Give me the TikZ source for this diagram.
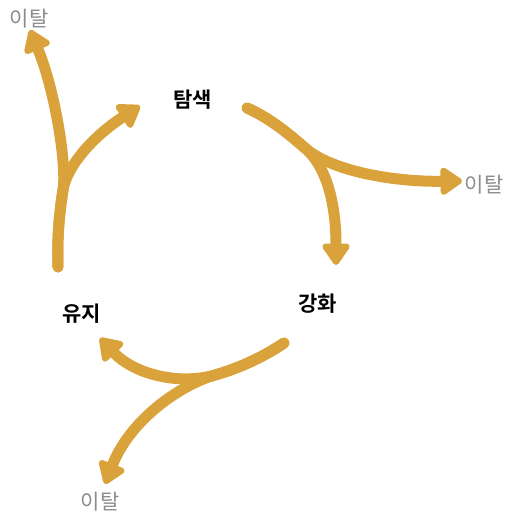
\documentclass[tikz,border=0pt]{standalone}
\usepackage{fontspec}
\setmainfont{Noto Sans CJK KR}
\newfontfamily\krbold{Noto Sans CJK KR Bold}
\usetikzlibrary{arrows.meta}
\definecolor{flow}{HTML}{D9A23A}
\definecolor{leave}{HTML}{8C8C8C}
\begin{document}
\begin{tikzpicture}[x=1pt,y=-1pt,
  stage/.style={font=\krbold\fontsize{21}{23}\selectfont, text=black, inner sep=0},
  exit/.style={font=\fontsize{21}{23}\selectfont, text=leave, inner sep=0},
  flowline/.style={draw=flow, line width=11pt, line cap=round,
    -{Triangle[length=24pt,width=31pt,round]}}]
\useasboundingbox (0,0) rectangle (506,516);
% labels
\node[stage] (explore) at (192.5,99.5) {탐색};
\node[stage] (reinforce) at (317.5,304) {강화};
\node[stage] (keep) at (81.5,314) {유지};
\node[exit] (exitTL) at (29,18.5) {이탈};
\node[exit] (exitR) at (484,185) {이탈};
\node[exit] (exitB) at (100,502) {이탈};
% start / junction / tip coordinates
\coordinate (s1) at (247,108);
\coordinate (j1) at (305,148);
\coordinate (t1a) at (336,265);
\coordinate (t1b) at (462,181);
\coordinate (s2) at (284,343);
\coordinate (j2) at (215,375);
\coordinate (t2a) at (100,338);
\coordinate (t2b) at (105,484);
\coordinate (s3) at (58,267);
\coordinate (j3) at (63,190);
\coordinate (t3a) at (140,106);
\coordinate (t3b) at (30,30);
% arrows
\draw[flowline] (s1) .. controls (270,118) and (290,135) .. (j1)
  .. controls (325,165) and (336,200) .. (t1a);
\draw[flowline] (s1) .. controls (270,118) and (290,135) .. (j1)
  .. controls (330,170) and (390,182) .. (t1b);
\draw[flowline] (s2) .. controls (265,356) and (240,368) .. (j2)
  .. controls (180,385) and (135,375) .. (t2a);
\draw[flowline] (s2) .. controls (265,356) and (240,368) .. (j2)
  .. controls (180,385) and (130,420) .. (t2b);
\draw[flowline] (s3) .. controls (57,240) and (59,215) .. (j3)
  .. controls (67,165) and (95,135) .. (t3a);
\draw[flowline] (s3) .. controls (57,240) and (59,215) .. (j3)
  .. controls (67,165) and (55,90) .. (t3b);
\end{tikzpicture}
\end{document}
